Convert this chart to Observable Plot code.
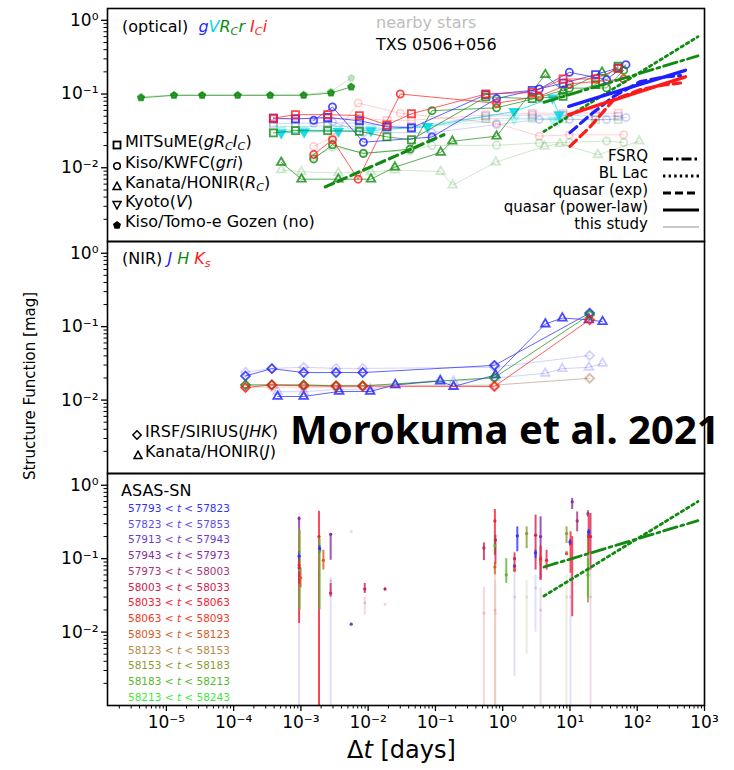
<!DOCTYPE html>
<html><head><meta charset="utf-8">
<script src="https://cdn.jsdelivr.net/npm/d3@7"></script>
<script src="https://cdn.jsdelivr.net/npm/@observablehq/plot@0.6"></script>
<style>
body{margin:0;background:#fff;}
#wrap{position:relative;width:734px;height:770px;overflow:hidden;font-family:"DejaVu Sans",sans-serif;color:#000;}
#wrap > svg{display:block;}
.abs{position:absolute;white-space:nowrap;line-height:1;}
.abs sub{font-size:0.7em;vertical-align:-0.25em;line-height:0;}
</style></head><body><div id="wrap"></div>
<script>
// ================= DATA =================
// --- optical panel (Δt in days, SF in mag) ---
const tomoeDt = [4.2e-6, 1.3e-5, 3.4e-5, 1.15e-4, 3.5e-4, 1.1e-3, 2.8e-3, 5.6e-3];
const tomoeSF = [0.089, 0.096, 0.096, 0.096, 0.096, 0.096, 0.103, 0.125];
const tomoeSFStars = [0.092, 0.097, 0.097, 0.097, 0.097, 0.098, 0.108, 0.165];

const mitsumeDt = [3.9e-4, 8.3e-4, 2.5e-3, 7.4e-3, 0.019, 0.044, 0.56, 2.75, 7.9, 24, 52];
const mitsumeG  = [0.047, 0.046, 0.048, 0.0435, 0.036, 0.0347, 0.098, 0.112, 0.140, 0.183, 0.226];
const mitsumeR  = [0.0297, 0.0319, 0.0319, 0.0312, 0.0262, 0.024, 0.0915, 0.0867, 0.093, 0.134, 0.238];
const mitsumeI  = [0.047, 0.0525, 0.0525, 0.051, 0.038, 0.054, 0.100, 0.105, 0.160, 0.160, 0.221];
const mitsumeGStars = [0.040, 0.040, 0.041, 0.040, 0.037, 0.036, 0.050, 0.052, 0.052, 0.050, 0.050];
const mitsumeRStars = [0.037, 0.036, 0.037, 0.036, 0.034, 0.034, 0.046, 0.047, 0.046, 0.045, 0.045];
const mitsumeIStars = [0.045, 0.046, 0.047, 0.047, 0.044, 0.044, 0.052, 0.055, 0.055, 0.055, 0.055];

const kisoGDt = [1.55e-3, 2.95e-3, 8.5e-3, 0.089, 0.81, 3.5, 9.8, 35, 68];
const kisoG   = [0.044, 0.0668, 0.0222, 0.0261, 0.0867, 0.117, 0.197, 0.157, 0.25];
const kisoGStars = [0.040, 0.042, 0.030, 0.030, 0.0385, 0.045, 0.045, 0.045, 0.048];
const kisoRDt = [1.55e-3, 2.95e-3, 8.5e-3, 0.042, 0.089, 0.81, 3.5, 9.8, 35, 63];
const kisoR   = [0.0132, 0.0205, 0.0156, 0.0179, 0.0595, 0.065, 0.090, 0.120, 0.121, 0.210];
const kisoRStars = [0.014, 0.019, 0.016, 0.017, 0.020, 0.0202, 0.0217, 0.022, 0.023, 0.022];
const kisoIDt = [1.55e-3, 2.95e-3, 7.1e-3, 0.030, 0.81, 3.5, 9.8, 63];
const kisoI   = [0.0151, 0.024, 0.0070, 0.100, 0.075, 0.093, 0.137, 0.160];
const kisoIStars = [0.0195, 0.026, 0.0755, 0.055, 0.040, 0.0268, 0.028, 0.028];

const kanataRDt = [5.1e-4, 1.02e-3, 3.6e-3, 0.011, 0.025, 0.12, 0.178, 0.81, 4.3, 7.9, 30];
const kanataR   = [0.0118, 0.0070, 0.0070, 0.0070, 0.0102, 0.0162, 0.0229, 0.0268, 0.183, 0.109, 0.197];
const kanataRStarsDt = [5.1e-4, 1.02e-3, 3.6e-3, 0.011, 0.025, 0.12, 0.18, 0.79, 4.2, 7.1, 26, 107];
const kanataRStars   = [0.0094, 0.0088, 0.0085, 0.0088, 0.0093, 0.0089, 0.0058, 0.0119, 0.0195, 0.0212, 0.015, 0.0229];

const kyotoDt = [5.1e-4, 1.12e-3, 3.6e-3, 0.011, 0.076, 1.48, 5.5, 6.9];
const kyotoV  = [0.0297, 0.0306, 0.0312, 0.0319, 0.0365, 0.058, 0.0885, 0.0525];
const kyotoVStars = [0.033, 0.033, 0.034, 0.034, 0.036, 0.045, 0.045, 0.044];

// model curves from the literature
const fsrqDt = [4.1, 800];    const fsrqSF = [0.077, 0.33];
const bllacDt = [4.1, 800];   const bllacSF = [0.031, 0.60];
const qsoPlDt = [9.6, 520];   const qsoPlG = [0.068, 0.21]; const qsoPlI = [0.0525, 0.171];
const qsoExpDt = [10, 20, 45, 112, 250, 440];
const qsoExpG = [0.030, 0.052, 0.093, 0.148, 0.170, 0.178];
const qsoExpI = [0.0195, 0.036, 0.084, 0.115, 0.133, 0.141];
const qsoExpRDt = [0.0023, 0.134]; const qsoExpR = [0.0055, 0.0281];

// --- NIR panel ---
const irsfDt = [1.5e-4, 3.7e-4, 1.1e-3, 3.33e-3, 8.3e-3, 0.753, 19.6];
const irsfJ = [0.0213, 0.0268, 0.0237, 0.0237, 0.0237, 0.0297, 0.153];
const irsfH = [0.0161, 0.0161, 0.0161, 0.0156, 0.0156, 0.0202, 0.145];
const irsfK = [0.0148, 0.0161, 0.0156, 0.0155, 0.0155, 0.0153, 0.124];
const irsfJStars = [0.024, 0.027, 0.028, 0.027, 0.027, 0.028, 0.0405];
const irsfHStars = [0.016, 0.016, 0.016, 0.016, 0.016, 0.016, 0.0198];
const irsfKStars = [0.015, 0.015, 0.015, 0.015, 0.015, 0.016, 0.0198];
const kanataJDt = [4.5e-4, 1.1e-3, 3.7e-3, 0.0107, 0.0253, 0.118, 0.186, 0.78, 4.3, 7.7, 19.1, 30.5];
const kanataJ = [0.0112, 0.0112, 0.0131, 0.0131, 0.0161, 0.0182, 0.0153, 0.022, 0.1087, 0.131, 0.124, 0.117];
const kanataJStars = [0.013, 0.013, 0.014, 0.014, 0.016, 0.019, 0.018, 0.020, 0.0232, 0.0268, 0.028, 0.0316];

// --- ASAS-SN panel ---
const periodLabels = [["57793","57823"],["57823","57853"],["57913","57943"],["57943","57973"],["57973","58003"],["58003","58033"],["58033","58063"],["58063","58093"],["58093","58123"],["58123","58153"],["58153","58183"],["58183","58213"],["58213","58243"]];
const periodColors = ["#3030ff","#5a4cf0","#6c3ecc","#8a2ca4","#a8347c","#d22050","#f42038","#f43a26","#d65a26","#b8884a","#8f9a30","#58b82c","#3ee83e"];
const asasDt = [9.4e-4,9.4e-4,9.4e-4,9.6e-4,9.9e-4,9.4e-4,1.86e-3,1.9e-3,1.9e-3,2.16e-3,2.77e-3,2.77e-3,5.6e-3,8.9e-3,0.0178,0.526,0.766,0.766,0.78,0.766,1.13,1.5,1.5,1.5,1.65,2.27,3.08,3.08,3.66,3.66,3.66,4.49,8.9,8.9,10.2,10.0,10.8,10.8,12.8,18.5,18.5,18.5,19,19,20.2];
const asasSF = [0.352,0.082,0.108,0.070,0.055,0.075,0.20,0.130,0.137,0.095,0.215,0.034,0.0128,0.0385,0.0385,0.140,0.327,0.150,0.179,0.077,0.060,0.100,0.070,0.079,0.205,0.220,0.209,0.120,0.200,0.095,0.100,0.095,0.220,0.117,0.161,0.169,0.594,0.100,0.327,0.070,0.060,0.410,0.200,0.232,0.200];
const asasLo = [0.244,0.0131,0.095,0.020,0.040,0.045,0.0005,0.020,0.120,0.070,0.095,0.030,0.0128,0.0336,0.037,0.094,0.112,0.112,0.082,0.060,0.046,0.070,0.065,0.075,0.124,0.137,0.070,0.100,0.051,0.080,0.051,0.070,0.161,0.110,0.063,0.150,0.467,0.0162,0.232,0.025,0.030,0.370,0.117,0.200,0.070];
const asasHi = [0.371,0.244,0.125,0.244,0.075,0.100,0.442,0.188,0.150,0.130,0.220,0.046,0.0128,0.046,0.040,0.164,0.467,0.205,0.209,0.090,0.100,0.120,0.075,0.083,0.271,0.271,0.391,0.130,0.371,0.110,0.148,0.130,0.271,0.125,0.232,0.180,0.660,0.200,0.433,0.232,0.100,0.450,0.391,0.250,0.412];
const asasPeriod = [3,6,0,11,8,5,6,11,0,8,3,5,2,5,5,5,6,11,5,8,11,5,8,3,0,10,5,0,3,8,6,6,10,8,6,0,3,6,4,10,11,4,6,0,5];
// comparison-star (faded) ASAS-SN points
const asasStarDt = [9.4e-4,1.86e-3,2.77e-3,5.6e-3,8.9e-3,0.0178,0.526,0.766,0.78,1.5,2.27,3.08,3.66,8.9,10.2,20.2];
const asasStarSF = [0.060,0.060,0.050,0.235,0.025,0.024,0.018,0.020,0.018,0.030,0.030,0.040,0.020,0.030,0.030,0.030];
const asasStarLo = [0.0005,0.0005,0.0005,0.235,0.017,0.024,0.0005,0.0005,0.0005,0.0025,0.005,0.010,0.0005,0.0005,0.0005,0.0005];
const asasStarHi = [0.080,0.080,0.055,0.235,0.030,0.024,0.041,0.060,0.050,0.077,0.050,0.060,0.040,0.060,0.060,0.070];
const asasStarPeriod = [3,10,2,1,5,5,5,6,10,2,10,1,4,10,1,4];

// axis ticks
const xTicks = [1e-5,1e-4,1e-3,1e-2,1e-1,1,10,100,1000];
const yTicks = [1e-2,1e-1,1];

// ================= DRAWING =================
const wrap = document.getElementById("wrap");
const W = 734, ML = 107, MR = 30;
const xDomain = [Math.pow(10,-5.875), 1000];
const yDomain = [0.001, Math.pow(10,0.16)];
const supMap = {"-":"⁻","0":"⁰","1":"¹","2":"²","3":"³","4":"⁴","5":"⁵"};
const pow10 = d => "10" + String(Math.round(Math.log10(d))).split("").map(c => supMap[c]).join("");
function minorTicks(e0, e1){ const out=[]; for(let e=e0;e<=e1;e++) for(let m=2;m<=9;m++) out.push(m*Math.pow(10,e)); return out; }
const xMinor = minorTicks(-6, 2).filter(v => v > xDomain[0]);
const yMinor = minorTicks(-3, -1);

const BLUE="#1f1fff", GREEN="#118a11", RED="#ff1a1a", CYAN="#00d8e8";
const sqrt3 = Math.sqrt(3);
const triDown = {draw(c, size){ const y = Math.sqrt(size/(sqrt3*3)); c.moveTo(0, y*2); c.lineTo(-sqrt3*y, -y); c.lineTo(sqrt3*y, -y); c.closePath(); }};
const pentagon = {draw(c, size){ const r = Math.sqrt(size/(2.5*Math.sin(2*Math.PI/5))); for(let i=0;i<5;i++){ const a=-Math.PI/2+i*2*Math.PI/5; const px=r*Math.cos(a), py=r*Math.sin(a); if(i) c.lineTo(px,py); else c.moveTo(px,py);} c.closePath(); }};

const toRows = (dt, sf) => dt.map((d,i) => ({dt:d, sf:sf[i]}));
function series(dt, sf, color, symbol, o={}){
  const data = toRows(dt, sf);
  const op = o.faded ? 0.2 : 0.8;
  return [
    Plot.line(data, {x:"dt", y:"sf", stroke:color, strokeWidth:1, strokeOpacity: o.faded ? 0.2 : 0.7}),
    Plot.dot(data, {x:"dt", y:"sf", symbol, r:o.r||4, stroke:color, strokeWidth:1.8, fill:o.filled?color:"none", strokeOpacity:op, fillOpacity:op})
  ];
}
function model(dt, sf, color, dash, w=3){
  return Plot.line(toRows(dt, sf), {x:"dt", y:"sf", stroke:color, strokeWidth:w, strokeDasharray:dash, clip:true});
}
function yAxes(){
  return [
    Plot.axisY({ticks:yTicks, tickFormat:pow10, tickSize:6, tickPadding:3, fontSize:17, label:null, strokeWidth:1.3}),
    Plot.axisY({ticks:yMinor, tickFormat:()=>"", tickSize:3.5, label:null})
  ];
}
function panel(height, mt, mb, marks, showX){
  return Plot.plot({
    width:W, height, marginLeft:ML, marginRight:MR, marginTop:mt, marginBottom:mb,
    x:{type:"log", domain:xDomain, axis: showX ? undefined : null},
    y:{type:"log", domain:yDomain},
    color:{type:"identity"},
    style:{fontFamily:"DejaVu Sans", fontSize:"17px", color:"black", background:"transparent", overflow:"visible"},
    marks:[...yAxes(), ...marks, ...(showX ? [
      Plot.axisX({ticks:xTicks, tickFormat:pow10, tickSize:6, tickPadding:4, fontSize:17, label:null, strokeWidth:1.3}),
      Plot.axisX({ticks:xMinor, tickFormat:()=>"", tickSize:3.5, label:null})
    ] : []), Plot.frame({stroke:"black", strokeWidth:1.6})]
  });
}

// ---- optical ----
const optical = panel(241, 8, 0, [
  ...series(mitsumeDt, mitsumeGStars, BLUE, "square", {faded:true}),
  ...series(mitsumeDt, mitsumeRStars, GREEN, "square", {faded:true}),
  ...series(mitsumeDt, mitsumeIStars, RED, "square", {faded:true}),
  ...series(kisoGDt, kisoGStars, BLUE, "circle", {faded:true, r:3.6}),
  ...series(kisoRDt, kisoRStars, GREEN, "circle", {faded:true, r:3.6}),
  ...series(kisoIDt, kisoIStars, RED, "circle", {faded:true, r:3.6}),
  ...series(kanataRStarsDt, kanataRStars, GREEN, "triangle", {faded:true, r:3.2}),
  ...series(kyotoDt, kyotoVStars, CYAN, triDown, {faded:true, filled:true, r:3.2}),
  ...series(tomoeDt, tomoeSFStars, GREEN, pentagon, {faded:true, filled:true, r:2.8}),
  ...series(tomoeDt, tomoeSF, GREEN, pentagon, {filled:true, r:2.8}),
  ...series(kyotoDt, kyotoV, CYAN, triDown, {filled:true, r:3.2}),
  ...series(kanataRDt, kanataR, GREEN, "triangle", {r:3.2}),
  ...series(kisoGDt, kisoG, BLUE, "circle", {r:3.6}),
  ...series(kisoRDt, kisoR, GREEN, "circle", {r:3.6}),
  ...series(kisoIDt, kisoI, RED, "circle", {r:3.6}),
  ...series(mitsumeDt, mitsumeG, BLUE, "square"),
  ...series(mitsumeDt, mitsumeR, GREEN, "square"),
  ...series(mitsumeDt, mitsumeI, RED, "square"),
  model(fsrqDt, fsrqSF, GREEN, "14,4,3,4", 2.8),
  model(bllacDt, bllacSF, GREEN, "2.6,3.6", 2.8),
  model(qsoExpRDt, qsoExpR, GREEN, "9,5", 3.2),
  model(qsoExpDt, qsoExpG, BLUE, "9,5", 3.2),
  model(qsoExpDt, qsoExpI, RED, "9,5", 3.2),
  model(qsoPlDt, qsoPlG, BLUE, null, 3.4),
  model(qsoPlDt, qsoPlI, RED, null, 3.4)
], false);

// ---- NIR ----
const nir = panel(232, 0, 0, [
  ...series(irsfDt, irsfJStars, BLUE, "diamond2", {faded:true}),
  ...series(irsfDt, irsfHStars, GREEN, "diamond2", {faded:true}),
  ...series(irsfDt, irsfKStars, RED, "diamond2", {faded:true}),
  ...series(kanataJDt, kanataJStars, BLUE, "triangle", {faded:true, r:3.2}),
  ...series(kanataJDt, kanataJ, BLUE, "triangle", {r:3.2}),
  ...series(irsfDt, irsfJ, BLUE, "diamond2"),
  ...series(irsfDt, irsfH, GREEN, "diamond2"),
  ...series(irsfDt, irsfK, RED, "diamond2")
], false);

// ---- ASAS-SN ----
const asas = asasDt.map((d,i) => ({dt:d, sf:asasSF[i], lo:asasLo[i], hi:asasHi[i], c:periodColors[asasPeriod[i]]}));
const asasStars = asasStarDt.map((d,i) => ({dt:d, sf:asasStarSF[i], lo:asasStarLo[i], hi:asasStarHi[i], c:periodColors[asasStarPeriod[i]]}));
const bottom = panel(297, 0, 65, [
  Plot.ruleX(asasStars, {x:"dt", y1:"lo", y2:"hi", stroke:"c", strokeWidth:2, strokeOpacity:0.18, clip:true}),
  Plot.dot(asasStars, {x:"dt", y:"sf", fill:"c", r:1.5, fillOpacity:0.2, clip:true}),
  Plot.ruleX(asas, {x:"dt", y1:"lo", y2:"hi", stroke:"c", strokeWidth:2, strokeOpacity:0.8, clip:true}),
  Plot.dot(asas, {x:"dt", y:"sf", fill:"c", r:1.6, clip:true}),
  model(fsrqDt, fsrqSF, GREEN, "14,4,3,4", 2.8),
  model(bllacDt, bllacSF, GREEN, "2.6,3.6", 2.8)
], true);

wrap.appendChild(optical);
wrap.appendChild(nir);
wrap.appendChild(bottom);

// ================= TEXT OVERLAYS =================
function addText(html, left, cy, size, extra=""){
  const d = document.createElement("div"); d.className = "abs";
  d.style.cssText = `left:${left}px;top:${cy - size*0.5}px;font-size:${size}px;${extra}`;
  d.innerHTML = html; wrap.appendChild(d); return d;
}
function addRight(html, right, cy, size, extra=""){
  const d = document.createElement("div"); d.className = "abs";
  d.style.cssText = `right:${W-right}px;top:${cy - size*0.5}px;font-size:${size}px;text-align:right;${extra}`;
  d.innerHTML = html; wrap.appendChild(d); return d;
}
function addSvg(inner, left, top, w, h){
  const d = document.createElement("div"); d.className = "abs";
  d.style.cssText = `left:${left}px;top:${top}px;width:${w}px;height:${h}px;`;
  d.innerHTML = `<svg width="${w}" height="${h}" viewBox="0 0 ${w} ${h}">${inner}</svg>`; wrap.appendChild(d);
}

// optical panel annotations
addText(`(optical)&nbsp; <i style="color:${BLUE}">g</i><i style="color:${CYAN}">V</i><i style="color:${GREEN}">R<sub>C</sub>r</i> <i style="color:${RED}">I<sub>C</sub>i</i>`, 122, 27, 16);
addText("nearby stars", 376, 23, 16, "color:#bdbdbd");
addText("TXS 0506+056", 376, 45, 16);
const mk = {
  square:`<rect x="1.5" y="1.5" width="7" height="7" fill="none" stroke="black" stroke-width="1.8"/>`,
  circle:`<circle cx="5" cy="5" r="3.3" fill="none" stroke="black" stroke-width="1.6"/>`,
  tri:`<path d="M5,1.2 L9,8.6 L1,8.6Z" fill="none" stroke="black" stroke-width="1.5"/>`,
  tridown:`<path d="M1,1.6 L9,1.6 L5,9Z" fill="none" stroke="black" stroke-width="1.5"/>`,
  pent:`<path d="M5,1 L9,4 L7.5,8.8 L2.5,8.8 L1,4Z" fill="black"/>`,
  diamond:`<path d="M5,0.8 L9.2,5 L5,9.2 L0.8,5Z" fill="none" stroke="black" stroke-width="1.6"/>`
};
const optLegend = [
  [mk.square, `MITSuME(<i>gR<sub>C</sub>I<sub>C</sub></i>)`, 142],
  [mk.circle, `Kiso/KWFC(<i>gri</i>)`, 163],
  [mk.tri, `Kanata/HONIR(<i>R<sub>C</sub></i>)`, 183],
  [mk.tridown, `Kyoto(<i>V</i>)`, 202],
  [mk.pent, `Kiso/Tomo-e Gozen (no)`, 222]
];
optLegend.forEach(([m, t, cy]) => { addSvg(m, 112, cy-5, 10, 10); addText(t, 125, cy, 16); });

const modelLegend = [
  ["FSRQ", 156, `stroke-dasharray="10,3,2.5,3"`, 3],
  ["BL Lac", 173, `stroke-dasharray="2.4,3.2"`, 3],
  ["quasar (exp)", 190, `stroke-dasharray="8,4"`, 3],
  ["quasar (power-law)", 207, ``, 3.2],
  ["this study", 224, ``, 0.8]
];
modelLegend.forEach(([t, cy, dash, w], i) => {
  addRight(t, 648, cy, 15);
  addSvg(`<line x1="0" y1="5" x2="36" y2="5" stroke="${i===4?'#777':'black'}" stroke-width="${w}" ${dash}/>`, 663, cy-5, 36, 10);
});

// NIR panel annotations
addText(`(NIR) <i style="color:${BLUE}">J</i> <i style="color:${GREEN}">H</i> <i style="color:${RED}">K<sub>s</sub></i>`, 122, 259, 16);
addSvg(mk.diamond, 132, 427, 10, 10); addText(`IRSF/SIRIUS(<i>JHK</i>)`, 145, 432, 16);
addSvg(mk.tri, 133, 447, 10, 10); addText(`Kanata/HONIR(<i>J</i>)`, 145, 452, 16);
addText("Morokuma et al. 2021", 290, 429, 40, "font-family:'Noto Sans',sans-serif;font-weight:bold;");

// ASAS-SN annotations
addText("ASAS-SN", 121, 491, 16);
periodLabels.forEach(([a,b], i) => addText(`${a} &lt; <i>t</i> &lt; ${b}`, 128, 508 + i*15.75, 10.5, `color:${periodColors[i]}`));

// axis titles
addText(`Δ<i>t</i> [days]`, 347, 750, 24);
const yl = addText("Structure Function [mag]", 0, 0, 15);
yl.style.left = "30px"; yl.style.top = "386px"; yl.style.transform = "translate(-50%,-50%) rotate(-90deg)";
</script></body></html>
